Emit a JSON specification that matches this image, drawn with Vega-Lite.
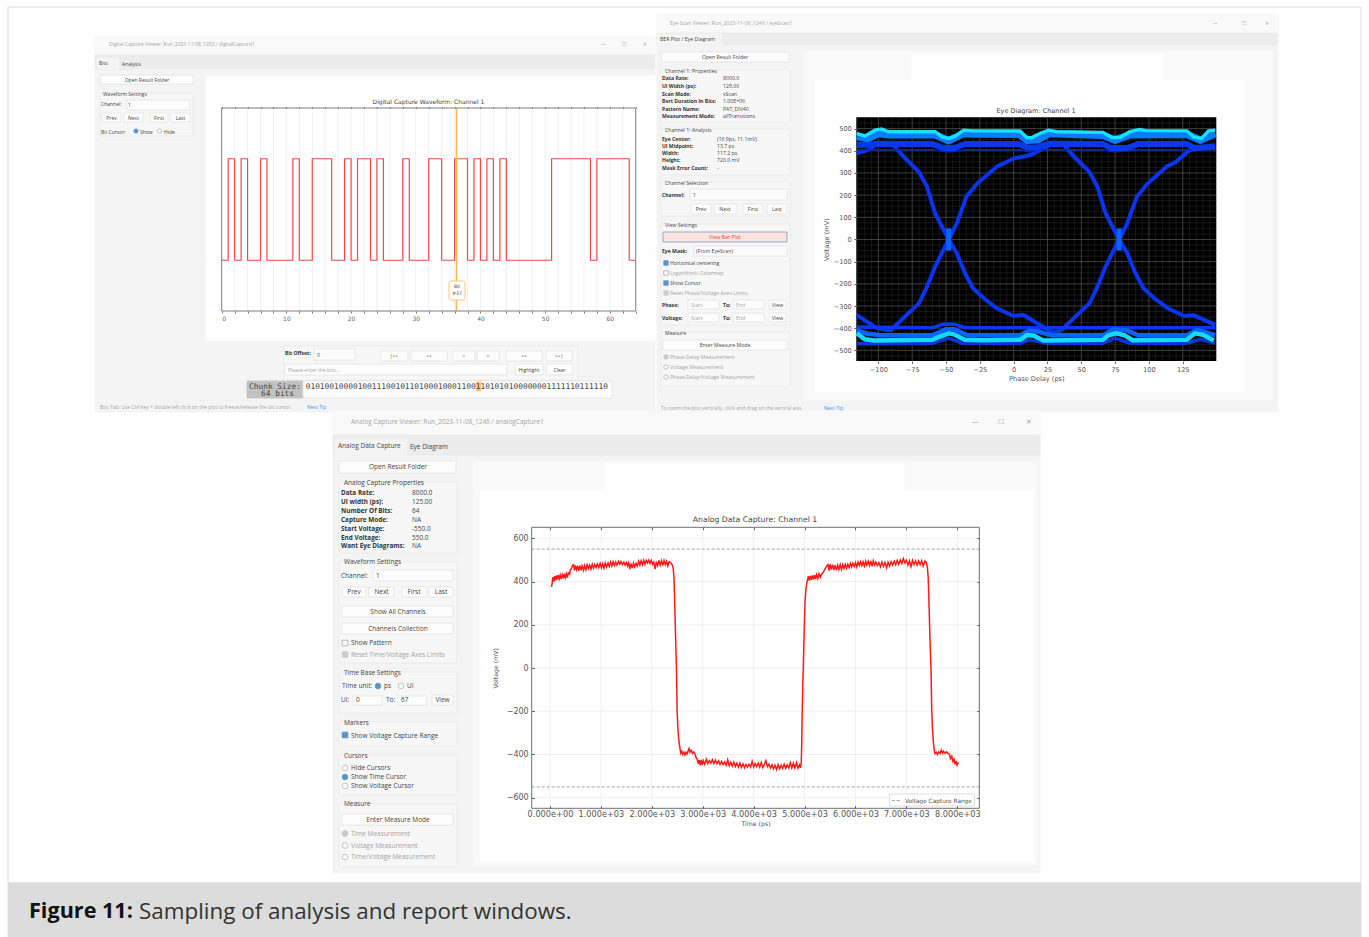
{
"$schema":"https://vega.github.io/schema/vega-lite/v6.json",
"width":1369,"height":937,"padding":0,"autosize":{"type":"none"},"background":"white",
"config":{"view":{"stroke":null}},
"datasets":{
"boxes":[
{"x":8,"x2":1361,"y":7,"y2":883,"k":"page"},
{"x":8,"x2":1361,"y":883,"y2":937,"k":"caption"},
{"x":95,"x2":655,"y":37,"y2":412,"k":"win"},
{"x":95,"x2":655,"y":37,"y2":55,"k":"bar"},
{"x":95,"x2":655,"y":55,"y2":69,"k":"strip"},
{"x":97,"x2":119,"y":58,"y2":69,"k":"win"},
{"x":206,"x2":655,"y":76,"y2":341,"k":"white"},
{"x":100,"x2":193,"y":75,"y2":84,"k":"button"},
{"x":100,"x2":193,"y":93,"y2":136,"k":"group"},
{"x":127,"x2":190,"y":100,"y2":110,"k":"button"},
{"x":102,"x2":121,"y":113,"y2":122,"k":"button"},
{"x":124,"x2":143,"y":113,"y2":122,"k":"button"},
{"x":150,"x2":168,"y":113,"y2":122,"k":"button"},
{"x":171,"x2":190,"y":113,"y2":122,"k":"button"},
{"x":284,"x2":578,"y":346,"y2":380,"k":"group"},
{"x":314,"x2":355,"y":349,"y2":360,"k":"button"},
{"x":381,"x2":408,"y":351,"y2":361,"k":"button"},
{"x":411,"x2":447,"y":351,"y2":361,"k":"button"},
{"x":453,"x2":475,"y":351,"y2":361,"k":"button"},
{"x":477,"x2":499,"y":351,"y2":361,"k":"button"},
{"x":506,"x2":542,"y":351,"y2":361,"k":"button"},
{"x":546,"x2":572,"y":351,"y2":361,"k":"button"},
{"x":285,"x2":507,"y":364,"y2":375,"k":"button"},
{"x":515,"x2":543,"y":364,"y2":375,"k":"button"},
{"x":546,"x2":573,"y":364,"y2":375,"k":"button"},
{"x":247,"x2":303,"y":381,"y2":398,"k":"gray"},
{"x":303,"x2":612,"y":381,"y2":398,"k":"button"},
{"x":476,"x2":481,"y":382,"y2":391,"k":"hl"},
{"x":657,"x2":1278,"y":15,"y2":412,"k":"win"},
{"x":657,"x2":1278,"y":15,"y2":33,"k":"bar"},
{"x":657,"x2":1278,"y":33,"y2":45,"k":"strip"},
{"x":657,"x2":722,"y":34,"y2":45,"k":"win"},
{"x":803,"x2":1273,"y":51,"y2":400,"k":"bar"},
{"x":912,"x2":1163,"y":54,"y2":80,"k":"white"},
{"x":815,"x2":1245,"y":80,"y2":392,"k":"white"},
{"x":661,"x2":789,"y":52,"y2":62,"k":"button"},
{"x":661,"x2":790,"y":70,"y2":122,"k":"group"},
{"x":661,"x2":790,"y":129,"y2":175,"k":"group"},
{"x":661,"x2":790,"y":182,"y2":216,"k":"group"},
{"x":690,"x2":787,"y":189,"y2":200,"k":"button"},
{"x":691,"x2":711,"y":204,"y2":214,"k":"button"},
{"x":714,"x2":737,"y":204,"y2":214,"k":"button"},
{"x":743,"x2":763,"y":204,"y2":214,"k":"button"},
{"x":767,"x2":787,"y":204,"y2":214,"k":"button"},
{"x":661,"x2":790,"y":224,"y2":325,"k":"group"},
{"x":663,"x2":787,"y":232,"y2":242,"k":"alert"},
{"x":694,"x2":787,"y":246,"y2":256,"k":"button"},
{"x":688,"x2":719,"y":300,"y2":309,"k":"button"},
{"x":733,"x2":764,"y":300,"y2":309,"k":"button"},
{"x":769,"x2":786,"y":300,"y2":309,"k":"button"},
{"x":688,"x2":719,"y":313,"y2":322,"k":"button"},
{"x":733,"x2":764,"y":313,"y2":322,"k":"button"},
{"x":769,"x2":786,"y":313,"y2":322,"k":"button"},
{"x":661,"x2":790,"y":332,"y2":386,"k":"group"},
{"x":663,"x2":787,"y":340,"y2":350,"k":"button"},
{"x":333,"x2":1040,"y":411,"y2":873,"k":"win"},
{"x":333,"x2":1040,"y":411,"y2":435,"k":"bar"},
{"x":333,"x2":1040,"y":435,"y2":455,"k":"strip"},
{"x":335,"x2":407,"y":439,"y2":455,"k":"win"},
{"x":473,"x2":1038,"y":461,"y2":866,"k":"bar"},
{"x":605,"x2":904,"y":463,"y2":490,"k":"white"},
{"x":480,"x2":1034,"y":490,"y2":862,"k":"white"},
{"x":339,"x2":456,"y":461,"y2":473,"k":"button"},
{"x":339,"x2":457,"y":482,"y2":553,"k":"group"},
{"x":339,"x2":457,"y":562,"y2":663,"k":"group"},
{"x":373,"x2":453,"y":570,"y2":581,"k":"button"},
{"x":342,"x2":366,"y":587,"y2":597,"k":"button"},
{"x":369,"x2":394,"y":587,"y2":597,"k":"button"},
{"x":402,"x2":426,"y":587,"y2":597,"k":"button"},
{"x":429,"x2":453,"y":587,"y2":597,"k":"button"},
{"x":342,"x2":453,"y":606,"y2":617,"k":"button"},
{"x":342,"x2":453,"y":623,"y2":634,"k":"button"},
{"x":339,"x2":457,"y":672,"y2":713,"k":"group"},
{"x":353,"x2":382,"y":696,"y2":705,"k":"button"},
{"x":398,"x2":427,"y":696,"y2":705,"k":"button"},
{"x":432,"x2":453,"y":695,"y2":705,"k":"button"},
{"x":339,"x2":457,"y":722,"y2":746,"k":"group"},
{"x":339,"x2":457,"y":755,"y2":795,"k":"group"},
{"x":339,"x2":457,"y":804,"y2":867,"k":"group"},
{"x":342,"x2":453,"y":814,"y2":825,"k":"button"}
],
"controls":[
{"x":136,"y":131,"c":"on","w":"d"},{"x":159.5,"y":131,"c":"off","w":"d"},
{"x":666,"y":263,"c":"boxon","w":"e"},{"x":666,"y":273,"c":"boxoff","w":"e"},{"x":666,"y":283,"c":"boxon","w":"e"},{"x":666,"y":293,"c":"boxgrey","w":"e"},
{"x":666,"y":357,"c":"dim","w":"e"},{"x":666,"y":367,"c":"off","w":"e"},{"x":666,"y":377,"c":"off","w":"e"},
{"x":345,"y":643,"c":"boxoff","w":"a"},{"x":345,"y":654.5,"c":"boxgrey","w":"a"},
{"x":378,"y":686,"c":"on","w":"a"},{"x":401,"y":686,"c":"off","w":"a"},
{"x":345,"y":735,"c":"boxon","w":"a"},
{"x":345,"y":768,"c":"off","w":"a"},{"x":345,"y":777,"c":"on","w":"a"},{"x":345,"y":786,"c":"off","w":"a"},
{"x":345,"y":833.5,"c":"dim","w":"a"},{"x":345,"y":845.5,"c":"off","w":"a"},{"x":345,"y":857,"c":"off","w":"a"}
],
"labels":[
{"x":109,"y":43.5,"s":"Digital Capture Viewer: Run_2023-11-08_1252 / digitalCapture1","t":"dim","w":"d"},
{"x":601,"y":43.5,"s":"—","t":"dim","w":"d"},{"x":622,"y":43.5,"s":"☐","t":"dim","w":"d"},{"x":643,"y":43.5,"s":"✕","t":"dim","w":"d"},
{"x":99,"y":62.5,"s":"Bits","t":"text","w":"d"},{"x":122,"y":63.5,"s":"Analysis","t":"text","w":"d"},
{"x":103,"y":93.5,"s":"Waveform Settings","t":"text","w":"d"},{"x":101,"y":104,"s":"Channel:","t":"text","w":"d"},{"x":128,"y":105,"s":"1","t":"text","w":"d"},
{"x":101,"y":131.5,"s":"Bit Cursor:","t":"text","w":"d"},{"x":140,"y":131.5,"s":"Show","t":"text","w":"d"},{"x":164,"y":131.5,"s":"Hide","t":"text","w":"d"},
{"x":317,"y":355,"s":"0","t":"text","w":"d"},{"x":288,"y":369.5,"s":"Please enter the bits...","t":"dim","w":"d"},
{"x":100,"y":407,"s":"Bits Tab: Use Ctrl key + double left click on the plot to freeze/release the bit cursor.","t":"dim","w":"d"},{"x":307,"y":407,"s":"Next Tip","t":"link","w":"d"},
{"x":670,"y":23,"s":"Eye Scan Viewer: Run_2023-11-08_1246 / eyeScan1","t":"dim","w":"e"},
{"x":1213,"y":23,"s":"—","t":"dim","w":"d"},{"x":1242,"y":23,"s":"☐","t":"dim","w":"d"},{"x":1265,"y":23,"s":"✕","t":"dim","w":"d"},
{"x":660,"y":39,"s":"BER Plot / Eye Diagram","t":"text","w":"e"},
{"x":665,"y":70.5,"s":"Channel 1: Properties","t":"text","w":"e"},
{"x":723,"y":78,"s":"8000.0","t":"text","w":"e"},{"x":723,"y":86,"s":"125.00","t":"text","w":"e"},{"x":723,"y":93.5,"s":"vScan","t":"text","w":"e"},{"x":723,"y":101,"s":"1.00E+06","t":"text","w":"e"},{"x":723,"y":108.5,"s":"PAT_DIV40","t":"text","w":"e"},{"x":723,"y":116,"s":"allTransitions","t":"text","w":"e"},
{"x":665,"y":129.5,"s":"Channel 1: Analysis","t":"text","w":"e"},
{"x":717,"y":138.5,"s":"(16.9ps, 11.1mV)","t":"text","w":"e"},{"x":717,"y":145.5,"s":"13.7 ps","t":"text","w":"e"},{"x":717,"y":152.5,"s":"117.2 ps","t":"text","w":"e"},{"x":717,"y":160,"s":"720.0 mV","t":"text","w":"e"},{"x":717,"y":168,"s":"-","t":"text","w":"e"},
{"x":665,"y":182.5,"s":"Channel Selection","t":"text","w":"e"},{"x":693,"y":194.5,"s":"1","t":"text","w":"e"},
{"x":665,"y":224.5,"s":"View Settings","t":"text","w":"e"},{"x":696,"y":251,"s":"(From EyeScan)","t":"text","w":"e"},
{"x":670,"y":263,"s":"Horizontal centering","t":"text","w":"e"},{"x":670,"y":273,"s":"Logarithmic Colormap","t":"dim","w":"e"},{"x":670,"y":283,"s":"Show Cursor","t":"text","w":"e"},{"x":670,"y":293,"s":"Reset Phase/Voltage Axes Limits","t":"dim","w":"e"},
{"x":691,"y":304.5,"s":"Start","t":"dim","w":"e"},{"x":736,"y":304.5,"s":"End","t":"dim","w":"e"},{"x":691,"y":317.5,"s":"Start","t":"dim","w":"e"},{"x":736,"y":317.5,"s":"End","t":"dim","w":"e"},
{"x":665,"y":332.5,"s":"Measure","t":"text","w":"e"},
{"x":670,"y":357,"s":"Phase Delay Measurement","t":"dim","w":"e"},{"x":670,"y":367,"s":"Voltage Measurement","t":"dim","w":"e"},{"x":670,"y":377,"s":"Phase Delay/Voltage Measurement","t":"dim","w":"e"},
{"x":661,"y":407.5,"s":"To zoom the plot vertically, click and drag on the vertical axis.","t":"dim","w":"d"},{"x":824,"y":407.5,"s":"Next Tip","t":"link","w":"d"},
{"x":351,"y":421.5,"s":"Analog Capture Viewer: Run_2023-11-08_1246 / analogCapture1","t":"dim","w":"a"},
{"x":972,"y":421.5,"s":"—","t":"dim","w":"a"},{"x":998,"y":421.5,"s":"☐","t":"dim","w":"a"},{"x":1026,"y":421.5,"s":"✕","t":"dim","w":"a"},
{"x":338,"y":446,"s":"Analog Data Capture","t":"text","w":"a"},{"x":410,"y":447,"s":"Eye Diagram","t":"text","w":"a"},
{"x":344,"y":482.5,"s":"Analog Capture Properties","t":"text","w":"a"},
{"x":412,"y":493,"s":"8000.0","t":"text","w":"a"},{"x":412,"y":501.5,"s":"125.00","t":"text","w":"a"},{"x":412,"y":511,"s":"64","t":"text","w":"a"},{"x":412,"y":519.5,"s":"NA","t":"text","w":"a"},{"x":412,"y":528.5,"s":"-550.0","t":"text","w":"a"},{"x":412,"y":537.5,"s":"550.0","t":"text","w":"a"},{"x":412,"y":546,"s":"NA","t":"text","w":"a"},
{"x":344,"y":562,"s":"Waveform Settings","t":"text","w":"a"},{"x":341,"y":575.5,"s":"Channel:","t":"text","w":"a"},{"x":376,"y":576,"s":"1","t":"text","w":"a"},
{"x":351,"y":643,"s":"Show Pattern","t":"text","w":"a"},{"x":351,"y":654.5,"s":"Reset Time/Voltage Axes Limits","t":"dim","w":"a"},
{"x":344,"y":672.5,"s":"Time Base Settings","t":"text","w":"a"},{"x":342,"y":686,"s":"Time unit:","t":"text","w":"a"},{"x":384,"y":686,"s":"ps","t":"text","w":"a"},{"x":407,"y":686,"s":"UI","t":"text","w":"a"},
{"x":341,"y":700,"s":"UI:","t":"text","w":"a"},{"x":356,"y":700,"s":"0","t":"text","w":"a"},{"x":386,"y":700,"s":"To:","t":"text","w":"a"},{"x":401,"y":700,"s":"67","t":"text","w":"a"},
{"x":344,"y":722.5,"s":"Markers","t":"text","w":"a"},{"x":351,"y":735.5,"s":"Show Voltage Capture Range","t":"text","w":"a"},
{"x":344,"y":755.5,"s":"Cursors","t":"text","w":"a"},{"x":351,"y":768,"s":"Hide Cursors","t":"text","w":"a"},{"x":351,"y":777,"s":"Show Time Cursor","t":"text","w":"a"},{"x":351,"y":786,"s":"Show Voltage Cursor","t":"text","w":"a"},
{"x":344,"y":804,"s":"Measure","t":"text","w":"a"},{"x":351,"y":833.5,"s":"Time Measurement","t":"dim","w":"a"},{"x":351,"y":845.5,"s":"Voltage Measurement","t":"dim","w":"a"},{"x":351,"y":857,"s":"Time/Voltage Measurement","t":"dim","w":"a"},
{"x":139,"y":912,"s":"Sampling of analysis and report windows.","t":"cap","w":"c"}
],
"bold":[
{"x":285,"y":353,"s":"Bit Offset:","t":"text","w":"d"},
{"x":662,"y":78,"s":"Data Rate:","t":"text","w":"d"},{"x":662,"y":86,"s":"UI Width (ps):","t":"text","w":"d"},{"x":662,"y":93.5,"s":"Scan Mode:","t":"text","w":"d"},{"x":662,"y":101,"s":"Bert Duration In Bits:","t":"text","w":"d"},{"x":662,"y":108.5,"s":"Pattern Name:","t":"text","w":"d"},{"x":662,"y":116,"s":"Measurement Mode:","t":"text","w":"d"},
{"x":662,"y":138.5,"s":"Eye Center:","t":"text","w":"d"},{"x":662,"y":145.5,"s":"UI Midpoint:","t":"text","w":"d"},{"x":662,"y":152.5,"s":"Width:","t":"text","w":"d"},{"x":662,"y":160,"s":"Height:","t":"text","w":"d"},{"x":662,"y":168,"s":"Mask Error Count:","t":"text","w":"d"},
{"x":662,"y":194.5,"s":"Channel:","t":"text","w":"d"},{"x":662,"y":251,"s":"Eye Mask:","t":"text","w":"d"},
{"x":662,"y":304.5,"s":"Phase:","t":"text","w":"d"},{"x":723,"y":304.5,"s":"To:","t":"text","w":"d"},{"x":662,"y":317.5,"s":"Voltage:","t":"text","w":"d"},{"x":723,"y":317.5,"s":"To:","t":"text","w":"d"},
{"x":341,"y":493,"s":"Data Rate:","t":"text","w":"a"},{"x":341,"y":501.5,"s":"UI width (ps):","t":"text","w":"a"},{"x":341,"y":511,"s":"Number Of Bits:","t":"text","w":"a"},{"x":341,"y":519.5,"s":"Capture Mode:","t":"text","w":"a"},{"x":341,"y":528.5,"s":"Start Voltage:","t":"text","w":"a"},{"x":341,"y":537.5,"s":"End Voltage:","t":"text","w":"a"},{"x":341,"y":546,"s":"Want Eye Diagrams:","t":"text","w":"a"},
{"x":29,"y":912,"s":"Figure 11:","t":"cap","w":"c"}
],
"centered":[
{"x":147,"y":79.5,"s":"Open Result Folder","t":"text","w":"d"},
{"x":111.5,"y":117.5,"s":"Prev","t":"text","w":"d"},{"x":133.5,"y":117.5,"s":"Next","t":"text","w":"d"},{"x":159,"y":117.5,"s":"First","t":"text","w":"d"},{"x":180.5,"y":117.5,"s":"Last","t":"text","w":"d"},
{"x":394,"y":356,"s":"|<<","t":"text","w":"d"},{"x":429,"y":356,"s":"<<","t":"text","w":"d"},{"x":464,"y":356,"s":"<","t":"text","w":"d"},{"x":488,"y":356,"s":">","t":"text","w":"d"},{"x":524,"y":356,"s":">>","t":"text","w":"d"},{"x":559,"y":356,"s":">>|","t":"text","w":"d"},
{"x":529,"y":369.5,"s":"Highlight","t":"text","w":"d"},{"x":559.5,"y":369.5,"s":"Clear","t":"text","w":"d"},
{"x":725,"y":57,"s":"Open Result Folder","t":"text","w":"e"},
{"x":701,"y":209,"s":"Prev","t":"text","w":"e"},{"x":725,"y":209,"s":"Next","t":"text","w":"e"},{"x":753,"y":209,"s":"First","t":"text","w":"e"},{"x":777,"y":209,"s":"Last","t":"text","w":"e"},
{"x":725,"y":237,"s":"View Ber Plot","t":"red","w":"e"},{"x":777.5,"y":304.5,"s":"View","t":"text","w":"e"},{"x":777.5,"y":317.5,"s":"View","t":"text","w":"e"},{"x":725,"y":345,"s":"Enter Measure Mode","t":"text","w":"e"},
{"x":398,"y":467,"s":"Open Result Folder","t":"text","w":"a"},
{"x":354,"y":592,"s":"Prev","t":"text","w":"a"},{"x":381.5,"y":592,"s":"Next","t":"text","w":"a"},{"x":414,"y":592,"s":"First","t":"text","w":"a"},{"x":441,"y":592,"s":"Last","t":"text","w":"a"},
{"x":398,"y":611.5,"s":"Show All Channels","t":"text","w":"a"},{"x":398,"y":628.5,"s":"Channels Collection","t":"text","w":"a"},{"x":442.5,"y":700,"s":"View","t":"text","w":"a"},{"x":398,"y":819.5,"s":"Enter Measure Mode","t":"text","w":"a"}
],
"plotTitles":[
{"x":428.5,"y":102,"s":"Digital Capture Waveform: Channel 1","w":"d"},
{"x":1036,"y":111,"s":"Eye Diagram: Channel 1","w":"e"},
{"x":755,"y":520,"s":"Analog Data Capture: Channel 1","w":"a"},
{"x":457,"y":286.5,"s":"Bit","w":"b"},{"x":457,"y":294,"s":"#37","w":"b"}
],
"mono":[
{"x":305.7,"y":386.5,"s":"0101001000010011100101101000100011001101010100000001111110111110"},
{"x":249,"y":386.5,"s":"Chunk Size:"},{"x":261,"y":394,"s":"64 bits"}
],
"bits":[
{"bit":0,"level":0},{"bit":1,"level":1},{"bit":2,"level":0},{"bit":3,"level":1},{"bit":4,"level":0},{"bit":5,"level":0},{"bit":6,"level":1},{"bit":7,"level":0},{"bit":8,"level":0},{"bit":9,"level":0},{"bit":10,"level":0},{"bit":11,"level":1},{"bit":12,"level":0},{"bit":13,"level":0},{"bit":14,"level":1},{"bit":15,"level":1},{"bit":16,"level":1},{"bit":17,"level":0},{"bit":18,"level":0},{"bit":19,"level":1},{"bit":20,"level":0},{"bit":21,"level":1},{"bit":22,"level":1},{"bit":23,"level":0},{"bit":24,"level":1},{"bit":25,"level":0},{"bit":26,"level":0},{"bit":27,"level":0},{"bit":28,"level":1},{"bit":29,"level":0},{"bit":30,"level":0},{"bit":31,"level":0},{"bit":32,"level":1},{"bit":33,"level":1},{"bit":34,"level":0},{"bit":35,"level":0},{"bit":36,"level":1},{"bit":37,"level":1},{"bit":38,"level":0},{"bit":39,"level":1},{"bit":40,"level":0},{"bit":41,"level":1},{"bit":42,"level":0},{"bit":43,"level":1},{"bit":44,"level":0},{"bit":45,"level":0},{"bit":46,"level":0},{"bit":47,"level":0},{"bit":48,"level":0},{"bit":49,"level":0},{"bit":50,"level":0},{"bit":51,"level":1},{"bit":52,"level":1},{"bit":53,"level":1},{"bit":54,"level":1},{"bit":55,"level":1},{"bit":56,"level":1},{"bit":57,"level":0},{"bit":58,"level":1},{"bit":59,"level":1},{"bit":60,"level":1},{"bit":61,"level":1},{"bit":62,"level":1},{"bit":63,"level":0},{"bit":64,"level":0}
],
"bitGrid":[{"g":2},{"g":4},{"g":6},{"g":8},{"g":10},{"g":12},{"g":14},{"g":16},{"g":18},{"g":20},{"g":22},{"g":24},{"g":26},{"g":28},{"g":30},{"g":32},{"g":34},{"g":36},{"g":38},{"g":40},{"g":42},{"g":44},{"g":46},{"g":48},{"g":50},{"g":52},{"g":54},{"g":56},{"g":58},{"g":60},{"g":62}],
"eyeMinorX":[{"g":-115},{"g":-110},{"g":-105},{"g":-95},{"g":-90},{"g":-85},{"g":-80},{"g":-70},{"g":-65},{"g":-60},{"g":-55},{"g":-45},{"g":-40},{"g":-35},{"g":-30},{"g":-20},{"g":-15},{"g":-10},{"g":-5},{"g":5},{"g":10},{"g":15},{"g":20},{"g":30},{"g":35},{"g":40},{"g":45},{"g":55},{"g":60},{"g":65},{"g":70},{"g":80},{"g":85},{"g":90},{"g":95},{"g":105},{"g":110},{"g":115},{"g":120},{"g":130},{"g":135},{"g":140},{"g":145}],
"eyeMinorY":[{"g":-525},{"g":-475},{"g":-450},{"g":-425},{"g":-375},{"g":-350},{"g":-325},{"g":-275},{"g":-250},{"g":-225},{"g":-175},{"g":-150},{"g":-125},{"g":-75},{"g":-50},{"g":-25},{"g":25},{"g":50},{"g":75},{"g":125},{"g":150},{"g":175},{"g":225},{"g":250},{"g":275},{"g":325},{"g":350},{"g":375},{"g":425},{"g":450},{"g":475},{"g":525}],
"eyeMajorX":[{"g":-100},{"g":-75},{"g":-50},{"g":-25},{"g":0},{"g":25},{"g":50},{"g":75},{"g":100},{"g":125}],
"eyeMajorY":[{"g":-500},{"g":-400},{"g":-300},{"g":-200},{"g":-100},{"g":0},{"g":100},{"g":200},{"g":300},{"g":400},{"g":500}],
"eye":[
{"p":-116,"v":388,"tr":"edge1"},{"p":-108,"v":403,"tr":"edge1"},{"p":-100,"v":433,"tr":"edge1"},{"p":-90,"v":433,"tr":"edge1"},{"p":-80,"v":365,"tr":"edge1"},{"p":-70,"v":305,"tr":"edge1"},{"p":-64,"v":238,"tr":"edge1"},{"p":-58,"v":117,"tr":"edge1"},{"p":-48,"v":0,"tr":"edge1"},{"p":-42,"v":-62,"tr":"edge1"},{"p":-36,"v":-152,"tr":"edge1"},{"p":-30,"v":-220,"tr":"edge1"},{"p":-22,"v":-265,"tr":"edge1"},{"p":-12.5,"v":-310,"tr":"edge1"},{"p":0,"v":-345,"tr":"edge1"},{"p":7,"v":-340,"tr":"edge1"},{"p":14,"v":-365,"tr":"edge1"},{"p":22,"v":-395,"tr":"edge1"},{"p":29,"v":-420,"tr":"edge1"},
{"p":-116,"v":-340,"tr":"edge2"},{"p":-110,"v":-365,"tr":"edge2"},{"p":-101,"v":-400,"tr":"edge2"},{"p":-91,"v":-410,"tr":"edge2"},{"p":-79,"v":-340,"tr":"edge2"},{"p":-70,"v":-288,"tr":"edge2"},{"p":-64,"v":-213,"tr":"edge2"},{"p":-58,"v":-122,"tr":"edge2"},{"p":-48,"v":0,"tr":"edge2"},{"p":-42,"v":72,"tr":"edge2"},{"p":-35,"v":192,"tr":"edge2"},{"p":-27,"v":252,"tr":"edge2"},{"p":-12.5,"v":328,"tr":"edge2"},{"p":0,"v":365,"tr":"edge2"},{"p":12,"v":380,"tr":"edge2"},{"p":22,"v":410,"tr":"edge2"},{"p":29,"v":433,"tr":"edge2"},
{"p":29,"v":433,"tr":"edge3"},{"p":36,"v":433,"tr":"edge3"},{"p":46,"v":365,"tr":"edge3"},{"p":56,"v":305,"tr":"edge3"},{"p":62,"v":238,"tr":"edge3"},{"p":68,"v":117,"tr":"edge3"},{"p":78,"v":0,"tr":"edge3"},{"p":84,"v":-62,"tr":"edge3"},{"p":90,"v":-152,"tr":"edge3"},{"p":96,"v":-220,"tr":"edge3"},{"p":104,"v":-265,"tr":"edge3"},{"p":114,"v":-310,"tr":"edge3"},{"p":126,"v":-345,"tr":"edge3"},{"p":133,"v":-342,"tr":"edge3"},{"p":140,"v":-360,"tr":"edge3"},{"p":149,"v":-385,"tr":"edge3"},
{"p":29,"v":-420,"tr":"edge4"},{"p":35,"v":-410,"tr":"edge4"},{"p":47,"v":-340,"tr":"edge4"},{"p":56,"v":-288,"tr":"edge4"},{"p":62,"v":-213,"tr":"edge4"},{"p":68,"v":-122,"tr":"edge4"},{"p":78,"v":0,"tr":"edge4"},{"p":84,"v":72,"tr":"edge4"},{"p":91,"v":192,"tr":"edge4"},{"p":99,"v":252,"tr":"edge4"},{"p":113,"v":328,"tr":"edge4"},{"p":120,"v":350,"tr":"edge4"},{"p":130,"v":403,"tr":"edge4"},{"p":149,"v":418,"tr":"edge4"},
{"p":-48,"v":-50,"tr":"cross1"},{"p":-48,"v":50,"tr":"cross1"},{"p":78,"v":-50,"tr":"cross2"},{"p":78,"v":50,"tr":"cross2"},
{"p":-116,"v":405,"tr":"thinTop"},{"p":-60,"v":405,"tr":"thinTop"},{"p":-48,"v":395,"tr":"thinTop"},{"p":-35,"v":405,"tr":"thinTop"},{"p":5,"v":405,"tr":"thinTop"},{"p":12,"v":395,"tr":"thinTop"},{"p":20,"v":405,"tr":"thinTop"},{"p":66,"v":405,"tr":"thinTop"},{"p":75,"v":395,"tr":"thinTop"},{"p":88,"v":405,"tr":"thinTop"},{"p":149,"v":405,"tr":"thinTop"},
{"p":-116,"v":425,"tr":"blueTop"},{"p":-100,"v":432,"tr":"blueTop"},{"p":-60,"v":431,"tr":"blueTop"},{"p":-52,"v":412,"tr":"blueTop"},{"p":-44,"v":412,"tr":"blueTop"},{"p":-36,"v":431,"tr":"blueTop"},{"p":4,"v":431,"tr":"blueTop"},{"p":10,"v":415,"tr":"blueTop"},{"p":18,"v":415,"tr":"blueTop"},{"p":26,"v":432,"tr":"blueTop"},{"p":66,"v":431,"tr":"blueTop"},{"p":72,"v":412,"tr":"blueTop"},{"p":84,"v":412,"tr":"blueTop"},{"p":92,"v":431,"tr":"blueTop"},{"p":128,"v":431,"tr":"blueTop"},{"p":134,"v":412,"tr":"blueTop"},{"p":149,"v":420,"tr":"blueTop"},
{"p":-116,"v":465,"tr":"midTop"},{"p":-108,"v":455,"tr":"midTop"},{"p":-100,"v":478,"tr":"midTop"},{"p":-92,"v":472,"tr":"midTop"},{"p":-58,"v":472,"tr":"midTop"},{"p":-48,"v":446,"tr":"midTop"},{"p":-37,"v":478,"tr":"midTop"},{"p":-30,"v":476,"tr":"midTop"},{"p":4,"v":475,"tr":"midTop"},{"p":10,"v":448,"tr":"midTop"},{"p":18,"v":450,"tr":"midTop"},{"p":26,"v":478,"tr":"midTop"},{"p":66,"v":470,"tr":"midTop"},{"p":75,"v":448,"tr":"midTop"},{"p":86,"v":472,"tr":"midTop"},{"p":128,"v":474,"tr":"midTop"},{"p":138,"v":448,"tr":"midTop"},{"p":149,"v":478,"tr":"midTop"},
{"p":-116,"v":478,"tr":"cyanTop"},{"p":-110,"v":466,"tr":"cyanTop"},{"p":-102.5,"v":493,"tr":"cyanTop"},{"p":-97.5,"v":498,"tr":"cyanTop"},{"p":-92.6,"v":486,"tr":"cyanTop"},{"p":-58,"v":486,"tr":"cyanTop"},{"p":-53,"v":463,"tr":"cyanTop"},{"p":-48,"v":456,"tr":"cyanTop"},{"p":-43,"v":466,"tr":"cyanTop"},{"p":-37,"v":493,"tr":"cyanTop"},{"p":-30,"v":490,"tr":"cyanTop"},{"p":4.7,"v":489,"tr":"cyanTop"},{"p":9.6,"v":460,"tr":"cyanTop"},{"p":13,"v":459,"tr":"cyanTop"},{"p":19.5,"v":478,"tr":"cyanTop"},{"p":25.6,"v":493,"tr":"cyanTop"},{"p":32,"v":486,"tr":"cyanTop"},{"p":66,"v":483,"tr":"cyanTop"},{"p":72.4,"v":460,"tr":"cyanTop"},{"p":78.6,"v":460,"tr":"cyanTop"},{"p":86,"v":486,"tr":"cyanTop"},{"p":93,"v":496,"tr":"cyanTop"},{"p":98,"v":491,"tr":"cyanTop"},{"p":128,"v":490,"tr":"cyanTop"},{"p":133,"v":463,"tr":"cyanTop"},{"p":139,"v":456,"tr":"cyanTop"},{"p":144,"v":490,"tr":"cyanTop"},{"p":149,"v":493,"tr":"cyanTop"},
{"p":-116,"v":-395,"tr":"blueBot"},{"p":-60,"v":-398,"tr":"blueBot"},{"p":-52,"v":-382,"tr":"blueBot"},{"p":-44,"v":-382,"tr":"blueBot"},{"p":-36,"v":-398,"tr":"blueBot"},{"p":149,"v":-398,"tr":"blueBot"},
{"p":-116,"v":-470,"tr":"deepBot"},{"p":-100,"v":-470,"tr":"deepBot"},{"p":-60,"v":-468,"tr":"deepBot"},{"p":-48,"v":-445,"tr":"deepBot"},{"p":-38,"v":-468,"tr":"deepBot"},{"p":5,"v":-468,"tr":"deepBot"},{"p":12,"v":-452,"tr":"deepBot"},{"p":24,"v":-468,"tr":"deepBot"},{"p":66,"v":-468,"tr":"deepBot"},{"p":75,"v":-445,"tr":"deepBot"},{"p":86,"v":-468,"tr":"deepBot"},{"p":128,"v":-468,"tr":"deepBot"},{"p":138,"v":-450,"tr":"deepBot"},{"p":149,"v":-468,"tr":"deepBot"},
{"p":-116,"v":-410,"tr":"midBot"},{"p":-108,"v":-425,"tr":"midBot"},{"p":-98,"v":-432,"tr":"midBot"},{"p":-60,"v":-432,"tr":"midBot"},{"p":-50,"v":-405,"tr":"midBot"},{"p":-44,"v":-405,"tr":"midBot"},{"p":-34,"v":-432,"tr":"midBot"},{"p":5,"v":-432,"tr":"midBot"},{"p":11,"v":-412,"tr":"midBot"},{"p":18,"v":-415,"tr":"midBot"},{"p":28,"v":-432,"tr":"midBot"},{"p":66,"v":-432,"tr":"midBot"},{"p":74,"v":-405,"tr":"midBot"},{"p":84,"v":-410,"tr":"midBot"},{"p":92,"v":-432,"tr":"midBot"},{"p":128,"v":-432,"tr":"midBot"},{"p":136,"v":-408,"tr":"midBot"},{"p":149,"v":-432,"tr":"midBot"},
{"p":-116,"v":-423,"tr":"cyanBot"},{"p":-110,"v":-450,"tr":"cyanBot"},{"p":-103,"v":-456,"tr":"cyanBot"},{"p":-60,"v":-452,"tr":"cyanBot"},{"p":-56,"v":-441,"tr":"cyanBot"},{"p":-48,"v":-423,"tr":"cyanBot"},{"p":-44,"v":-428,"tr":"cyanBot"},{"p":-36,"v":-452,"tr":"cyanBot"},{"p":-25,"v":-454,"tr":"cyanBot"},{"p":5,"v":-452,"tr":"cyanBot"},{"p":10,"v":-431,"tr":"cyanBot"},{"p":15,"v":-434,"tr":"cyanBot"},{"p":22,"v":-456,"tr":"cyanBot"},{"p":66,"v":-452,"tr":"cyanBot"},{"p":70,"v":-432,"tr":"cyanBot"},{"p":76,"v":-423,"tr":"cyanBot"},{"p":82,"v":-432,"tr":"cyanBot"},{"p":88,"v":-454,"tr":"cyanBot"},{"p":128,"v":-452,"tr":"cyanBot"},{"p":134,"v":-423,"tr":"cyanBot"},{"p":140,"v":-430,"tr":"cyanBot"},{"p":148,"v":-456,"tr":"cyanBot"}
],
"captureRange":[{"mv":550,"name":"Voltage Capture Range"},{"mv":-550,"name":"Voltage Capture Range"}],
"timeGrid":[{"g":0},{"g":1000},{"g":2000},{"g":3000},{"g":4000},{"g":5000},{"g":6000},{"g":7000},{"g":8000}],
"voltGrid":[{"g":-600},{"g":-400},{"g":-200},{"g":0},{"g":200},{"g":400},{"g":600}],
"analog":[
{"t":30,"v":375},{"t":45,"v":395},{"t":55,"v":420},{"t":75,"v":400},{"t":90,"v":425},{"t":110,"v":405},{"t":125,"v":428},{"t":145,"v":410},{"t":160,"v":430},{"t":180,"v":412},{"t":200,"v":430},{"t":220,"v":412},{"t":240,"v":432},{"t":262,"v":415},{"t":280,"v":436},{"t":300,"v":418},{"t":320,"v":436},{"t":340,"v":418},{"t":360,"v":440},{"t":385,"v":435},{"t":400,"v":455},{"t":425,"v":462},{"t":445,"v":475},{"t":465,"v":478},{"t":480,"v":452},{"t":495,"v":474},{"t":520,"v":455},{"t":540,"v":474},{"t":565,"v":450},{"t":585,"v":474},{"t":610,"v":452},{"t":630,"v":472},{"t":660,"v":452},{"t":680,"v":474},{"t":705,"v":455},{"t":730,"v":478},{"t":755,"v":460},{"t":780,"v":476},{"t":805,"v":458},{"t":830,"v":480},{"t":855,"v":462},{"t":880,"v":478},{"t":905,"v":465},{"t":930,"v":482},{"t":960,"v":465},{"t":985,"v":484},{"t":1010,"v":464},{"t":1035,"v":482},{"t":1060,"v":462},{"t":1085,"v":486},{"t":1110,"v":468},{"t":1140,"v":486},{"t":1165,"v":470},{"t":1190,"v":490},{"t":1215,"v":472},{"t":1240,"v":492},{"t":1265,"v":474},{"t":1290,"v":490},{"t":1315,"v":476},{"t":1345,"v":494},{"t":1370,"v":480},{"t":1395,"v":492},{"t":1420,"v":478},{"t":1450,"v":490},{"t":1475,"v":476},{"t":1500,"v":488},{"t":1525,"v":472},{"t":1545,"v":486},{"t":1570,"v":458},{"t":1590,"v":484},{"t":1615,"v":462},{"t":1640,"v":486},{"t":1665,"v":468},{"t":1690,"v":484},{"t":1715,"v":472},{"t":1740,"v":494},{"t":1765,"v":476},{"t":1790,"v":496},{"t":1815,"v":478},{"t":1840,"v":498},{"t":1865,"v":480},{"t":1890,"v":498},{"t":1915,"v":486},{"t":1940,"v":500},{"t":1965,"v":484},{"t":1990,"v":498},{"t":2015,"v":480},{"t":2040,"v":490},{"t":2065,"v":458},{"t":2090,"v":492},{"t":2115,"v":474},{"t":2140,"v":498},{"t":2165,"v":476},{"t":2190,"v":496},{"t":2215,"v":474},{"t":2240,"v":498},{"t":2265,"v":478},{"t":2290,"v":494},{"t":2315,"v":472},{"t":2340,"v":492},{"t":2370,"v":488},{"t":2395,"v":480},{"t":2418,"v":465},{"t":2435,"v":420},{"t":2450,"v":300},{"t":2470,"v":120},{"t":2484,"v":0},{"t":2497,"v":-200},{"t":2515,"v":-290},{"t":2536,"v":-345},{"t":2555,"v":-375},{"t":2570,"v":-395},{"t":2590,"v":-385},{"t":2610,"v":-400},{"t":2630,"v":-390},{"t":2650,"v":-402},{"t":2670,"v":-390},{"t":2690,"v":-398},{"t":2710,"v":-385},{"t":2732,"v":-372},{"t":2750,"v":-390},{"t":2775,"v":-382},{"t":2800,"v":-395},{"t":2824,"v":-388},{"t":2850,"v":-400},{"t":2870,"v":-415},{"t":2889,"v":-420},{"t":2910,"v":-442},{"t":2930,"v":-425},{"t":2950,"v":-450},{"t":2970,"v":-425},{"t":2990,"v":-448},{"t":3010,"v":-428},{"t":3040,"v":-445},{"t":3070,"v":-422},{"t":3100,"v":-442},{"t":3130,"v":-428},{"t":3160,"v":-440},{"t":3190,"v":-424},{"t":3220,"v":-442},{"t":3250,"v":-426},{"t":3280,"v":-442},{"t":3310,"v":-430},{"t":3340,"v":-446},{"t":3370,"v":-432},{"t":3400,"v":-446},{"t":3430,"v":-434},{"t":3460,"v":-450},{"t":3490,"v":-424},{"t":3520,"v":-452},{"t":3550,"v":-436},{"t":3580,"v":-454},{"t":3610,"v":-436},{"t":3640,"v":-456},{"t":3670,"v":-440},{"t":3700,"v":-458},{"t":3730,"v":-440},{"t":3760,"v":-460},{"t":3790,"v":-444},{"t":3820,"v":-462},{"t":3850,"v":-446},{"t":3880,"v":-458},{"t":3910,"v":-445},{"t":3940,"v":-458},{"t":3970,"v":-432},{"t":4000,"v":-458},{"t":4030,"v":-442},{"t":4060,"v":-456},{"t":4090,"v":-440},{"t":4120,"v":-458},{"t":4150,"v":-438},{"t":4180,"v":-460},{"t":4210,"v":-445},{"t":4240,"v":-428},{"t":4270,"v":-456},{"t":4300,"v":-445},{"t":4330,"v":-462},{"t":4360,"v":-448},{"t":4390,"v":-466},{"t":4420,"v":-450},{"t":4450,"v":-470},{"t":4480,"v":-448},{"t":4510,"v":-466},{"t":4540,"v":-450},{"t":4570,"v":-464},{"t":4600,"v":-446},{"t":4630,"v":-464},{"t":4660,"v":-448},{"t":4690,"v":-462},{"t":4720,"v":-438},{"t":4750,"v":-462},{"t":4780,"v":-440},{"t":4810,"v":-462},{"t":4840,"v":-438},{"t":4870,"v":-464},{"t":4900,"v":-448},{"t":4920,"v":-462},{"t":4935,"v":-438},{"t":4945,"v":-350},{"t":4954,"v":-200},{"t":4965,"v":-80},{"t":4975,"v":0},{"t":4985,"v":100},{"t":4996,"v":200},{"t":5010,"v":310},{"t":5028,"v":369},{"t":5050,"v":400},{"t":5074,"v":425},{"t":5095,"v":405},{"t":5115,"v":426},{"t":5135,"v":408},{"t":5155,"v":428},{"t":5175,"v":410},{"t":5195,"v":430},{"t":5215,"v":412},{"t":5235,"v":432},{"t":5260,"v":414},{"t":5285,"v":436},{"t":5310,"v":420},{"t":5336,"v":434},{"t":5370,"v":445},{"t":5401,"v":458},{"t":5430,"v":470},{"t":5460,"v":478},{"t":5480,"v":450},{"t":5500,"v":480},{"t":5525,"v":456},{"t":5550,"v":478},{"t":5575,"v":454},{"t":5600,"v":476},{"t":5625,"v":452},{"t":5650,"v":476},{"t":5675,"v":456},{"t":5700,"v":478},{"t":5725,"v":456},{"t":5750,"v":478},{"t":5775,"v":460},{"t":5800,"v":480},{"t":5825,"v":462},{"t":5850,"v":480},{"t":5875,"v":464},{"t":5900,"v":484},{"t":5925,"v":468},{"t":5950,"v":484},{"t":5975,"v":470},{"t":6000,"v":488},{"t":6025,"v":468},{"t":6050,"v":490},{"t":6075,"v":474},{"t":6100,"v":492},{"t":6125,"v":474},{"t":6150,"v":492},{"t":6175,"v":472},{"t":6200,"v":494},{"t":6225,"v":476},{"t":6250,"v":494},{"t":6275,"v":474},{"t":6300,"v":496},{"t":6325,"v":470},{"t":6350,"v":496},{"t":6375,"v":478},{"t":6400,"v":490},{"t":6430,"v":474},{"t":6460,"v":488},{"t":6490,"v":468},{"t":6520,"v":490},{"t":6550,"v":470},{"t":6580,"v":488},{"t":6612,"v":464},{"t":6640,"v":490},{"t":6670,"v":472},{"t":6700,"v":492},{"t":6730,"v":476},{"t":6760,"v":494},{"t":6790,"v":478},{"t":6820,"v":498},{"t":6850,"v":480},{"t":6880,"v":500},{"t":6910,"v":484},{"t":6940,"v":506},{"t":6972,"v":486},{"t":7000,"v":498},{"t":7030,"v":476},{"t":7060,"v":496},{"t":7090,"v":470},{"t":7120,"v":498},{"t":7150,"v":478},{"t":7180,"v":496},{"t":7210,"v":476},{"t":7240,"v":496},{"t":7270,"v":478},{"t":7300,"v":496},{"t":7330,"v":472},{"t":7365,"v":495},{"t":7390,"v":490},{"t":7411,"v":470},{"t":7428,"v":420},{"t":7444,"v":300},{"t":7465,"v":120},{"t":7483,"v":0},{"t":7498,"v":-200},{"t":7515,"v":-290},{"t":7531,"v":-345},{"t":7550,"v":-385},{"t":7564,"v":-397},{"t":7590,"v":-390},{"t":7610,"v":-400},{"t":7635,"v":-388},{"t":7660,"v":-396},{"t":7685,"v":-380},{"t":7710,"v":-394},{"t":7727,"v":-385},{"t":7760,"v":-394},{"t":7790,"v":-388},{"t":7820,"v":-396},{"t":7845,"v":-398},{"t":7865,"v":-420},{"t":7891,"v":-408},{"t":7915,"v":-432},{"t":7935,"v":-422},{"t":7956,"v":-446},{"t":7975,"v":-430},{"t":7995,"v":-450},{"t":8022,"v":-436}
]
},
"layer":[
{"data":{"name":"boxes"},"mark":{"type":"rect","strokeWidth":0.8},
 "encoding":{
  "x":{"field":"x","type":"quantitative","scale":{"domain":[0,1369],"range":[0,1369]},"axis":null},
  "x2":{"field":"x2"},
  "y":{"field":"y","type":"quantitative","scale":{"domain":[0,937],"range":[0,937]},"axis":null},
  "y2":{"field":"y2"},
  "fill":{"field":"k","type":"nominal","legend":null,"sort":null,"scale":{"domain":["page","caption","win","bar","strip","white","button","group","gray","hl","alert"],"range":["#ffffff","#dcdcdc","#f4f4f4","#f9f9f9","#ececec","#ffffff","#fdfdfd","#f7f7f7","#c2c2c2","#fbc67a","#fde4e0"]}},
  "stroke":{"field":"k","type":"nominal","legend":null,"sort":null,"scale":{"domain":["page","caption","win","bar","strip","white","button","group","gray","hl","alert"],"range":["#d4d4d4","#dcdcdc","#f4f4f4","#f9f9f9","#ececec","#ffffff","#e2e2e2","#e8e8e8","#c2c2c2","#fbc67a","#6f9bc0"]}}
 }},
{"data":{"name":"controls"},"mark":{"type":"point","filled":true,"strokeWidth":0.8},
 "encoding":{
  "x":{"field":"x","type":"quantitative","scale":{"domain":[0,1369],"range":[0,1369]},"axis":null},
  "y":{"field":"y","type":"quantitative","scale":{"domain":[0,937],"range":[0,937]},"axis":null},
  "shape":{"field":"c","type":"nominal","legend":null,"scale":{"domain":["on","off","dim","boxon","boxoff","boxgrey"],"range":["circle","circle","circle","square","square","square"]}},
  "fill":{"field":"c","type":"nominal","legend":null,"scale":{"domain":["on","off","dim","boxon","boxoff","boxgrey"],"range":["#1a68b8","#ffffff","#bbbbbb","#1a68b8","#ffffff","#bbbbbb"]}},
  "stroke":{"field":"c","type":"nominal","legend":null,"scale":{"domain":["on","off","dim","boxon","boxoff","boxgrey"],"range":["#1a68b8","#999999","#aaaaaa","#1a68b8","#888888","#bbbbbb"]}},
  "size":{"field":"w","type":"nominal","legend":null,"scale":{"type":"ordinal","domain":["d","e","a"],"range":[18,20,32]}}
 }},
{"data":{"name":"labels"},"mark":{"type":"text","align":"left","baseline":"middle","font":"Open Sans"},
 "encoding":{
  "x":{"field":"x","type":"quantitative","scale":{"domain":[0,1369],"range":[0,1369]},"axis":null},
  "y":{"field":"y","type":"quantitative","scale":{"domain":[0,937],"range":[0,937]},"axis":null},
  "text":{"field":"s"},
  "color":{"field":"t","type":"nominal","legend":null,"scale":{"domain":["text","dim","link","red","cap"],"range":["#444444","#a4a4a4","#3f8fe8","#e8433a","#333333"]}},
  "size":{"field":"w","type":"nominal","legend":null,"scale":{"type":"ordinal","domain":["d","e","a","c"],"range":[5,5.2,6.5,22.4]}}
 }},
{"data":{"name":"bold"},"mark":{"type":"text","align":"left","baseline":"middle","font":"Open Sans","fontWeight":"bold"},
 "encoding":{
  "x":{"field":"x","type":"quantitative","scale":{"domain":[0,1369],"range":[0,1369]},"axis":null},
  "y":{"field":"y","type":"quantitative","scale":{"domain":[0,937],"range":[0,937]},"axis":null},
  "text":{"field":"s"},
  "color":{"field":"t","type":"nominal","legend":null,"scale":{"domain":["text","cap"],"range":["#333333","#111111"]}},
  "size":{"field":"w","type":"nominal","legend":null,"scale":{"type":"ordinal","domain":["d","a","c"],"range":[5.1,6.4,21.6]}}
 }},
{"data":{"name":"centered"},"mark":{"type":"text","align":"center","baseline":"middle","font":"Open Sans"},
 "encoding":{
  "x":{"field":"x","type":"quantitative","scale":{"domain":[0,1369],"range":[0,1369]},"axis":null},
  "y":{"field":"y","type":"quantitative","scale":{"domain":[0,937],"range":[0,937]},"axis":null},
  "text":{"field":"s"},
  "color":{"field":"t","type":"nominal","legend":null,"scale":{"domain":["text","red"],"range":["#444444","#e8433a"]}},
  "size":{"field":"w","type":"nominal","legend":null,"scale":{"type":"ordinal","domain":["d","e","a"],"range":[5,5.2,6.5]}}
 }},
{"data":{"name":"mono"},"mark":{"type":"text","align":"left","baseline":"middle","font":"DejaVu Sans Mono","fontSize":7.85,"color":"#444444"},
 "encoding":{
  "x":{"field":"x","type":"quantitative","scale":{"domain":[0,1369],"range":[0,1369]},"axis":null},
  "y":{"field":"y","type":"quantitative","scale":{"domain":[0,937],"range":[0,937]},"axis":null},
  "text":{"field":"s"}
 }},
{"data":{"name":"bitGrid"},"mark":{"type":"rule","color":"#ececec","strokeWidth":0.8},
 "encoding":{
  "x":{"field":"g","type":"quantitative","scale":{"domain":[0,64],"range":[221.7,635.7]},
   "axis":{"orient":{"signal":"'top'"},"offset":-108,"values":[0,2,4,6,8,10,12,14,16,18,20,22,24,26,28,30,32,34,36,38,40,42,44,46,48,50,52,54,56,58,60,62,64],"labels":false,"domain":false,"grid":false,"tickColor":"#777777","tickSize":1.5,"title":null,"zindex":1}},
  "y":{"datum":-0.5,"scale":{"domain":[-0.5,1.5],"range":[311,108]},"axis":null},
  "y2":{"datum":1.5}
 }},
{"data":{"name":"bits"},"mark":{"type":"line","interpolate":"step-after","color":"#f4474a","strokeWidth":1.2},
 "encoding":{
  "x":{"field":"bit","type":"quantitative","scale":{"domain":[0,64],"range":[221.7,635.7]},
   "axis":{"orient":{"signal":"'bottom'"},"offset":-626,"values":[0,2,4,6,8,10,12,14,16,18,20,22,24,26,28,30,32,34,36,38,40,42,44,46,48,50,52,54,56,58,60,62,64],"labelExpr":"datum.value % 10 == 0 ? datum.label : ''","grid":false,"domain":false,"tickColor":"#777777","tickSize":2,"labelFontSize":6,"labelColor":"#666666","labelFont":"DejaVu Sans","labelPadding":2,"title":null,"zindex":1}},
  "y":{"field":"level","type":"quantitative","scale":{"domain":[-0.5,1.5],"range":[311,108]},"axis":null}
 }},
{"data":{"values":[{"bit":36.3}]},"mark":{"type":"rule","color":"#f7bd55","strokeWidth":1.6},
 "encoding":{
  "x":{"field":"bit","type":"quantitative","scale":{"domain":[0,64],"range":[221.7,635.7]},"axis":null},
  "y":{"datum":-0.5,"scale":{"domain":[-0.5,1.5],"range":[311,108]},"axis":null},
  "y2":{"datum":1.5}
 }},
{"data":{"values":[{"a":0}]},"mark":{"type":"rect","fill":null,"stroke":"#6e6e6e","strokeWidth":0.9},
 "encoding":{
  "x":{"datum":0,"scale":{"domain":[0,64],"range":[221.7,635.7]},"axis":null},"x2":{"datum":64},
  "y":{"datum":-0.5,"scale":{"domain":[-0.5,1.5],"range":[311,108]},"axis":null},"y2":{"datum":1.5}
 }},
{"data":{"values":[{"x":449,"x2":465,"y":281,"y2":300}]},"mark":{"type":"rect","fill":"#ffffff","stroke":"#f7c877","strokeWidth":1,"cornerRadius":2},
 "encoding":{
  "x":{"field":"x","type":"quantitative","scale":{"domain":[0,1369],"range":[0,1369]},"axis":null},"x2":{"field":"x2"},
  "y":{"field":"y","type":"quantitative","scale":{"domain":[0,937],"range":[0,937]},"axis":null},"y2":{"field":"y2"}
 }},
{"data":{"name":"plotTitles"},"mark":{"type":"text","align":"center","baseline":"middle","font":"DejaVu Sans","color":"#444444"},
 "encoding":{
  "x":{"field":"x","type":"quantitative","scale":{"domain":[0,1369],"range":[0,1369]},"axis":null},
  "y":{"field":"y","type":"quantitative","scale":{"domain":[0,937],"range":[0,937]},"axis":null},
  "text":{"field":"s"},
  "size":{"field":"w","type":"nominal","legend":null,"scale":{"type":"ordinal","domain":["d","e","a","b"],"range":[6,6.5,7.7,4.6]}}
 }},
{"data":{"values":[{"a":0}]},"mark":{"type":"rect","fill":"#000000"},
 "encoding":{
  "x":{"datum":-116.3,"scale":{"domain":[-116.3,149.8],"range":[856.3,1216.3]},"axis":null},"x2":{"datum":149.8},
  "y":{"datum":-548,"scale":{"domain":[-548,551],"range":[361,117.3]},"axis":null},"y2":{"datum":551}
 }},
{"data":{"name":"eyeMinorX"},"mark":{"type":"rule","color":"#262626","strokeWidth":0.6},
 "encoding":{
  "x":{"field":"g","type":"quantitative","scale":{"domain":[-116.3,149.8],"range":[856.3,1216.3]},"axis":null},
  "y":{"datum":-548,"scale":{"domain":[-548,551],"range":[361,117.3]},"axis":null},"y2":{"datum":551}
 }},
{"data":{"name":"eyeMinorY"},"mark":{"type":"rule","color":"#262626","strokeWidth":0.6},
 "encoding":{
  "y":{"field":"g","type":"quantitative","scale":{"domain":[-548,551],"range":[361,117.3]},"axis":null},
  "x":{"datum":-116.3,"scale":{"domain":[-116.3,149.8],"range":[856.3,1216.3]},"axis":null},"x2":{"datum":149.8}
 }},
{"data":{"name":"eyeMajorX"},"mark":{"type":"rule","color":"#5a5a5a","strokeWidth":0.7},
 "encoding":{
  "x":{"field":"g","type":"quantitative","scale":{"domain":[-116.3,149.8],"range":[856.3,1216.3]},
   "axis":{"orient":{"signal":"'bottom'"},"offset":-576,"values":[-100,-75,-50,-25,0,25,50,75,100,125],"labelExpr":"replace(datum.label,'-','−')","grid":false,"domain":false,"tickColor":"#666666","tickSize":2.5,"labelFontSize":6.6,"labelColor":"#555555","labelFont":"DejaVu Sans","labelPadding":2.5,"title":"Phase Delay (ps)","titleFont":"DejaVu Sans","titleFontSize":6.6,"titleFontWeight":"normal","titleColor":"#555555","titlePadding":3,"zindex":1}},
  "y":{"datum":-548,"scale":{"domain":[-548,551],"range":[361,117.3]},"axis":null},"y2":{"datum":551}
 }},
{"data":{"name":"eyeMajorY"},"mark":{"type":"rule","color":"#5a5a5a","strokeWidth":0.7},
 "encoding":{
  "y":{"field":"g","type":"quantitative","scale":{"domain":[-548,551],"range":[361,117.3]},
   "axis":{"orient":{"signal":"'left'"},"offset":-856.3,"values":[-500,-400,-300,-200,-100,0,100,200,300,400,500],"labelExpr":"replace(datum.label,'-','−')","grid":false,"domain":false,"tickColor":"#666666","tickSize":2.5,"labelFontSize":6.6,"labelColor":"#555555","labelFont":"DejaVu Sans","labelPadding":2.5,"title":"Voltage (mV)","titleFont":"DejaVu Sans","titleFontSize":6.6,"titleFontWeight":"normal","titleColor":"#555555","titlePadding":4,"zindex":1}},
  "x":{"datum":-116.3,"scale":{"domain":[-116.3,149.8],"range":[856.3,1216.3]},"axis":null},"x2":{"datum":149.8}
 }},
{"data":{"name":"eye"},"mark":{"type":"line","strokeCap":"butt","strokeJoin":"miter","clip":false},
 "encoding":{
  "x":{"field":"p","type":"quantitative","scale":{"domain":[-116.3,149.8],"range":[856.3,1216.3]},"axis":null},
  "y":{"field":"v","type":"quantitative","scale":{"domain":[-548,551],"range":[361,117.3]},"axis":null},
  "color":{"field":"tr","type":"nominal","legend":null,"sort":null,"scale":{"domain":["edge1","edge2","edge3","edge4","cross1","cross2","thinTop","blueTop","midTop","cyanTop","blueBot","deepBot","midBot","cyanBot"],"range":["#0a35f0","#0a35f0","#0a35f0","#0a35f0","#0a62ff","#0a62ff","#0722b8","#0838ea","#0a7cff","#16e2ff","#0a38f0","#0a35d8","#0a64ff","#14dcff"]}},
  "strokeWidth":{"field":"tr","type":"nominal","legend":null,"sort":null,"scale":{"type":"ordinal","domain":["edge1","edge2","edge3","edge4","cross1","cross2","thinTop","blueTop","midTop","cyanTop","blueBot","deepBot","midBot","cyanBot"],"range":[4,4,4,4,5,5,1.5,6,7.5,3.4,3.5,3.5,4.5,4.5]}}
 }},
{"data":{"name":"timeGrid"},"mark":{"type":"rule","color":"#ececec","strokeWidth":0.8},
 "encoding":{
  "x":{"field":"g","type":"quantitative","scale":{"domain":[-359,8432],"range":[531.7,979.3]},
   "axis":{"orient":{"signal":"'top'"},"offset":-527.3,"values":[0,1000,2000,3000,4000,5000,6000,7000,8000],"labels":false,"domain":false,"grid":false,"tickColor":"#666666","tickSize":-2.5,"title":null,"zindex":1}},
  "y":{"datum":-649,"scale":{"domain":[-649,651],"range":[808.3,527.3]},"axis":null},"y2":{"datum":651}
 }},
{"data":{"name":"voltGrid"},"mark":{"type":"rule","color":"#ececec","strokeWidth":0.8},
 "encoding":{
  "y":{"field":"g","type":"quantitative","scale":{"domain":[-649,651],"range":[808.3,527.3]},
   "axis":{"orient":{"signal":"'right'"},"offset":-389.7,"values":[-600,-400,-200,0,200,400,600],"labels":false,"domain":false,"grid":false,"tickColor":"#666666","tickSize":-2.5,"title":null,"zindex":1}},
  "x":{"datum":-359,"scale":{"domain":[-359,8432],"range":[531.7,979.3]},"axis":null},"x2":{"datum":8432}
 }},
{"data":{"name":"captureRange"},"mark":{"type":"rule","strokeDash":[3,2],"strokeWidth":0.8},
 "encoding":{
  "y":{"field":"mv","type":"quantitative","scale":{"domain":[-649,651],"range":[808.3,527.3]},"axis":null},
  "x":{"datum":-359,"scale":{"domain":[-359,8432],"range":[531.7,979.3]},"axis":null},"x2":{"datum":8432},
  "color":{"field":"name","type":"nominal","scale":{"range":["#8a8a8a"]},
   "legend":{"orient":"none","legendX":889,"legendY":793.5,"title":null,"fillColor":"#ffffff","strokeColor":"#dddddd","padding":2,"labelFontSize":5.8,"labelFont":"DejaVu Sans","labelColor":"#555555","symbolType":"stroke","symbolDash":[3,2],"symbolSize":70,"symbolStrokeWidth":0.8}}
 }},
{"data":{"name":"analog"},"mark":{"type":"line","color":"#ff1a1a","strokeWidth":1.5},
 "encoding":{
  "x":{"field":"t","type":"quantitative","scale":{"domain":[-359,8432],"range":[531.7,979.3]},
   "axis":{"orient":{"signal":"'bottom'"},"offset":-128.7,"values":[0,1000,2000,3000,4000,5000,6000,7000,8000],"labelExpr":"replace(format(datum.value,'.3e'),'e+','e+0')","grid":false,"domain":false,"tickColor":"#555555","tickSize":-2.5,"labelFontSize":8.2,"labelColor":"#555555","labelFont":"DejaVu Sans","labelPadding":5,"title":"Time (ps)","titleFont":"DejaVu Sans","titleFontSize":6.2,"titleFontWeight":"normal","titleColor":"#555555","titlePadding":2.5,"zindex":1}},
  "y":{"field":"v","type":"quantitative","scale":{"domain":[-649,651],"range":[808.3,527.3]},
   "axis":{"orient":{"signal":"'left'"},"offset":-531.7,"values":[-600,-400,-200,0,200,400,600],"labelExpr":"replace(datum.label,'-','−')","grid":false,"domain":false,"tickColor":"#555555","tickSize":-2.5,"labelFontSize":8,"labelColor":"#555555","labelFont":"DejaVu Sans","labelPadding":6,"title":"Voltage (mV)","titleFont":"DejaVu Sans","titleFontSize":6.2,"titleFontWeight":"normal","titleColor":"#555555","titlePadding":8,"zindex":1}}
 }},
{"data":{"values":[{"a":0}]},"mark":{"type":"rect","fill":null,"stroke":"#6e6e6e","strokeWidth":1},
 "encoding":{
  "x":{"datum":-359,"scale":{"domain":[-359,8432],"range":[531.7,979.3]},"axis":null},"x2":{"datum":8432},
  "y":{"datum":-649,"scale":{"domain":[-649,651],"range":[808.3,527.3]},"axis":null},"y2":{"datum":651}
 }}
],
"resolve":{"scale":{"x":"independent","y":"independent","color":"independent","fill":"independent","stroke":"independent","size":"independent","shape":"independent","strokeWidth":"independent"},"axis":{"x":"independent","y":"independent"},"legend":{"color":"independent"}}
}
